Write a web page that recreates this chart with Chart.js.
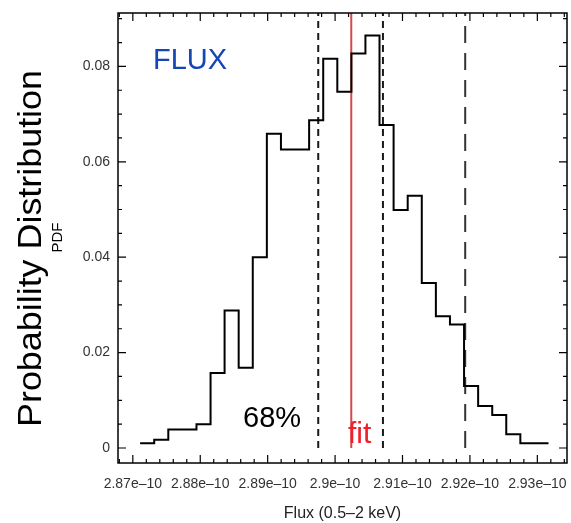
<!DOCTYPE html>
<html><head><meta charset="utf-8">
<script src="https://cdn.jsdelivr.net/npm/chart.js@4/dist/chart.umd.min.js"></script>
<style>html,body{margin:0;padding:0;background:#fff;overflow:hidden}#wrap{width:571px;height:523px;position:relative}</style>
</head><body><div id="wrap"><canvas id="c" width="571" height="523" style="width:571px;height:523px"></canvas></div>
<script>
// Flux values are in units of 1e-10 (0.5–2 keV band)
const binEdges = [2.87108,2.87317,2.87526,2.87735,2.87944,2.88153,2.88361,2.88570,2.88779,2.88988,
                  2.89197,2.89406,2.89615,2.89824,2.90033,2.90242,2.90450,2.90659,2.90868,2.91077,
                  2.91286,2.91495,2.91704,2.91913,2.92122,2.92331,2.92539,2.92748,2.92957,2.93166];
const pdfValues = [0.0010,0.0017,0.0039,0.0039,0.0050,0.0157,0.0288,0.0168,0.0400,0.0659,
                   0.0626,0.0626,0.0687,0.0816,0.0747,0.0827,0.0865,0.0677,0.0499,0.0529,
                   0.0346,0.0276,0.0259,0.0130,0.0088,0.0069,0.0029,0.0010,0.0010];
const xTickValues = [2.87,2.88,2.89,2.90,2.91,2.92,2.93];
const yTickValues = [0,0.02,0.04,0.06,0.08];
const fitFlux = 2.9024;
const conf68Low = 2.8975;
const conf68High = 2.9071;
const confOuter = 2.9193;

const X_MIN = 2.8678, X_MAX = 2.9344, Y_MIN = -0.00315, Y_MAX = 0.0912;
const FONT = "'Liberation Sans', Arial, Helvetica, sans-serif";

const histData = binEdges.map((e, i) => ({x: e, y: pdfValues[Math.min(i, pdfValues.length - 1)]}));
const vline = (xv) => [{x: xv, y: 0}, {x: xv, y: Y_MAX}];

const fmtX = v => parseFloat(Number(v).toFixed(2)) + 'e\u201310';
const fmtY = v => (Math.abs(v) < 1e-9 ? '0' : Number(v).toFixed(2));

const framePlugin = {
  id: 'frame',
  afterDraw(chart) {
    const {ctx, chartArea: ca, scales: {x, y}} = chart;
    ctx.save();
    ctx.strokeStyle = '#000';
    ctx.lineWidth = 1.5;
    ctx.strokeRect(ca.left, ca.top, ca.right - ca.left, ca.bottom - ca.top);
    ctx.lineWidth = 1.2;
    ctx.beginPath();
    for (let k = Math.ceil(X_MIN / 0.002); k * 0.002 <= X_MAX; k++) {
      const v = k * 0.002;
      const px = x.getPixelForValue(v);
      if (px <= ca.left + 1 || px >= ca.right - 1) continue;
      const major = (k % 5 === 0);
      const len = major ? 8 : 4;
      ctx.moveTo(px, ca.bottom); ctx.lineTo(px, ca.bottom - len);
      ctx.moveTo(px, ca.top); ctx.lineTo(px, ca.top + len);
    }
    for (let k = 0; k * 0.005 <= Y_MAX; k++) {
      const v = k * 0.005;
      const py = y.getPixelForValue(v);
      const major = (k % 4 === 0);
      const len = major ? 8 : 4;
      ctx.moveTo(ca.left, py); ctx.lineTo(ca.left + len, py);
      ctx.moveTo(ca.right, py); ctx.lineTo(ca.right - len, py);
    }
    ctx.stroke();

    // annotations
    ctx.textBaseline = 'alphabetic';
    ctx.textAlign = 'left';
    ctx.fillStyle = '#1446b4';
    ctx.font = '29px ' + FONT;
    ctx.fillText('FLUX', 153, 68.5);
    ctx.fillStyle = '#000';
    ctx.font = '29px ' + FONT;
    ctx.fillText('68%', 243, 427);
    ctx.fillStyle = '#f0202d';
    ctx.font = '30px ' + FONT;
    ctx.fillText('fit', 348, 442.5);

    // y-axis title
    ctx.save();
    ctx.fillStyle = '#000';
    ctx.font = '33px ' + FONT;
    const t = 'Probability Distribution';
    const w = ctx.measureText(t).width;
    ctx.translate(40.7, 248.5);
    ctx.rotate(-Math.PI / 2);
    ctx.scale(357 / w, 1);
    ctx.textAlign = 'center';
    ctx.fillText(t, 0, 0);
    ctx.restore();
    ctx.save();
    ctx.fillStyle = '#000';
    ctx.font = '15px ' + FONT;
    ctx.translate(61.5, 237.5);
    ctx.rotate(-Math.PI / 2);
    ctx.textAlign = 'center';
    ctx.fillText('PDF', 0, 0);
    ctx.restore();
    ctx.restore();
  }
};

new Chart(document.getElementById('c'), {
  type: 'line',
  data: {
    datasets: [
      {data: histData, stepped: true, borderColor: '#000', borderWidth: 2, pointRadius: 0, fill: false},
      {data: vline(conf68Low), borderColor: '#1a1a1a', borderWidth: 2, borderDash: [7, 5], pointRadius: 0},
      {data: vline(conf68High), borderColor: '#1a1a1a', borderWidth: 2, borderDash: [7, 5], pointRadius: 0},
      {data: vline(confOuter), borderColor: '#333', borderWidth: 2, borderDash: [17, 10], pointRadius: 0},
      {data: vline(fitFlux), borderColor: '#d44a4a', borderWidth: 2, pointRadius: 0}
    ]
  },
  options: {
    responsive: false,
    maintainAspectRatio: false,
    animation: false,
    devicePixelRatio: 1,
    layout: {padding: {top: 13, right: 4, left: 0, bottom: 0}},
    plugins: {legend: {display: false}, tooltip: {enabled: false}},
    scales: {
      x: {
        type: 'linear', min: X_MIN, max: X_MAX,
        grid: {display: false, drawTicks: false}, border: {display: false},
        afterBuildTicks: s => { s.ticks = xTickValues.map(v => ({value: v})); },
        afterFit: s => { s.height = 60; s.paddingLeft = 0; s.paddingRight = 0; },
        ticks: {font: {size: 14, family: FONT}, color: '#333', padding: 13, maxRotation: 0, autoSkip: false, callback: fmtX},
        title: {display: true, text: 'Flux (0.5\u20132 keV)', font: {size: 16, family: FONT}, color: '#222', padding: 0}
      },
      y: {
        type: 'linear', min: Y_MIN, max: Y_MAX,
        grid: {display: false, drawTicks: false}, border: {display: false},
        afterBuildTicks: s => { s.ticks = yTickValues.map(v => ({value: v})); },
        afterFit: s => { s.width = 118; s.paddingTop = 0; s.paddingBottom = 0; },
        ticks: {font: {size: 14, family: FONT}, color: '#333', padding: 8, autoSkip: false, callback: fmtY}
      }
    }
  },
  plugins: [framePlugin]
});
</script></body></html>
